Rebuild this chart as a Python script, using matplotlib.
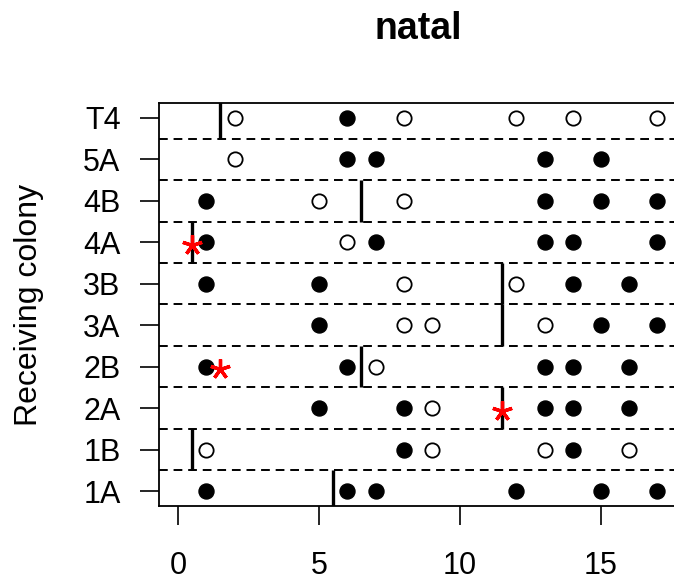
import numpy as np
import matplotlib
matplotlib.use("Agg")
import matplotlib.pyplot as plt

plt.rcParams['font.family'] = ['Liberation Sans', 'DejaVu Sans']

# rows bottom to top
colonies = ['1A', '1B', '2A', '2B', '3A', '3B', '4A', '4B', '5A', 'T4']

filled_pts = [
    [1, 6, 7, 12, 15, 17],   # 1A
    [8, 14],                 # 1B
    [5, 8, 13, 14, 16],      # 2A
    [1, 6, 13, 14, 16],      # 2B
    [5, 15, 17],             # 3A
    [1, 5, 14, 16],          # 3B
    [1, 7, 13, 14, 17],      # 4A
    [1, 13, 15, 17],         # 4B
    [6, 7, 13, 15],          # 5A
    [6],                     # T4
]
open_pts = [
    [],                      # 1A
    [1, 9, 13, 16],          # 1B
    [9],                     # 2A
    [7],                     # 2B
    [8, 9, 13],              # 3A
    [8, 12],                 # 3B
    [6],                     # 4A
    [5, 8],                  # 4B
    [2],                     # 5A
    [2, 8, 12, 14, 17],      # T4
]
cutoff = [5.5, 0.5, 11.5, 6.5, 11.5, 11.5, 0.5, 6.5, np.nan, 1.5]
star_x = [np.nan, np.nan, 11.5, 1.5, np.nan, np.nan, 0.5, np.nan, np.nan, np.nan]

fig = plt.figure(figsize=(6.74, 5.88), dpi=100)
ax = fig.add_axes([159 / 674, 1 - 506 / 588, 517.6 / 674, 403 / 588])

# dashed separators between rows
for k in range(len(colonies) - 1):
    ax.axhline(k + 0.5, color='black', lw=1.4, ls=(0, (4.5, 3)), zorder=1)

for i in range(len(colonies)):
    if not np.isnan(cutoff[i]):
        ax.vlines(cutoff[i], i - 0.5, i + 0.5, color='black', lw=2.4, zorder=2)
    fx = filled_pts[i]
    ax.plot(fx, [i] * len(fx), 'o', color='black', ms=10.8, mew=1.0, ls='none', zorder=3)
    ox = open_pts[i]
    ax.plot(ox, [i] * len(ox), 'o', mfc='white', mec='black', ms=10.3, mew=1.3, ls='none', zorder=3)
    if not np.isnan(star_x[i]):
        ax.plot([star_x[i]], [i - 0.06], marker=(5, 2, 0), color='red', ms=14.5, mew=2.4, ls='none', zorder=4)

ax.set_xlim(-0.68, 17.68)
ax.set_ylim(-0.36, 9.36)
ax.set_yticks(range(len(colonies)))
ax.set_yticklabels(colonies)
ax.set_xticks([0, 5, 10, 15])
ax.tick_params(axis='both', labelsize=22, length=13.7, width=1.2)
ax.tick_params(axis='y', pad=14)
ax.tick_params(axis='x', pad=19)
ax.spines['right'].set_visible(False)
for s in ['left', 'top', 'bottom']:
    ax.spines[s].set_linewidth(1.3)

ax.set_ylabel('Receiving colony', fontsize=23, labelpad=28)
ax.set_title('natal', fontsize=27, fontweight='bold', pad=46)

fig.savefig('out.png', dpi=100)
